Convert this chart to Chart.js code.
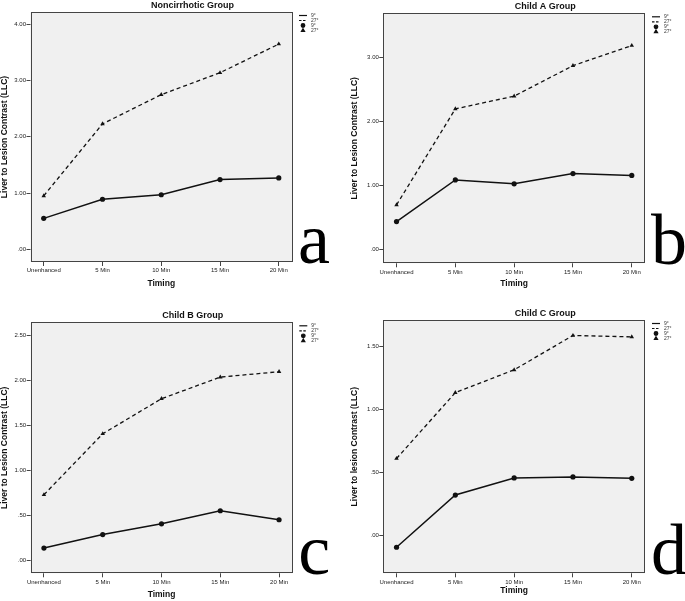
<!DOCTYPE html>
<html>
<head>
<meta charset="utf-8">
<title>Liver to Lesion Contrast by timing</title>
<script src="https://cdn.jsdelivr.net/npm/chart.js@4.4.0/dist/chart.umd.min.js"></script>
<style>
  body { margin: 0; background: #fff; }
  #wrap { position: relative; width: 685px; height: 601px; }
  canvas { position: absolute; }
</style>
</head>
<body>
<div id="wrap">
  <canvas id="panelA" width="342" height="300" style="left:0;top:0"></canvas>
  <canvas id="panelB" width="335" height="300" style="left:350px;top:0"></canvas>
  <canvas id="panelC" width="342" height="296" style="left:0;top:305px"></canvas>
  <canvas id="panelD" width="335" height="296" style="left:350px;top:305px"></canvas>
</div>
<script>
const timing = ['Unenhanced', '5 Min', '10 Min', '15 Min', '20 Min'];
const seriesNames = ['9°', '27°'];

// values
const noncirrhotic9 = [0.55, 0.89, 0.97, 1.24, 1.27];
const noncirrhotic27 = [0.95, 2.23, 2.75, 3.14, 3.65];
const childA9 = [0.44, 1.09, 1.03, 1.19, 1.16];
const childA27 = [0.70, 2.20, 2.40, 2.875, 3.19];
const childB9 = [0.14, 0.29, 0.41, 0.555, 0.455];
const childB27 = [0.733, 1.41, 1.80, 2.04, 2.10];
const childC9 = [-0.095, 0.32, 0.456, 0.464, 0.453];
const childC27 = [0.61, 1.134, 1.315, 1.588, 1.577];

const ticksNoncirrhotic = [0, 1, 2, 3, 4];
const ticksChildA = [0, 1, 2, 3];
const ticksChildB = [0, 0.5, 1, 1.5, 2, 2.5];
const ticksChildC = [0, 0.5, 1, 1.5];

const panels = [
  { id: 'panelA', title: 'Noncirrhotic Group', letter: 'a', yTitle: 'Liver to Lesion Contrast (LLC)',
    s9: noncirrhotic9, s27: noncirrhotic27, yTicks: ticksNoncirrhotic, yMin: -0.226, yMax: 4.22,
    box: { left: 30.5, right: 292, top: 12, bottom: 262 }, xGap: 22 },
  { id: 'panelB', title: 'Child A Group', letter: 'b', yTitle: 'Liver to Lesion Contrast (LLC)',
    s9: childA9, s27: childA27, yTicks: ticksChildA, yMin: -0.2125, yMax: 3.694,
    box: { left: 33.3, right: 295, top: 13.3, bottom: 263.3 }, xGap: 20.7 },
  { id: 'panelC', title: 'Child B Group', letter: 'c', yTitle: 'Liver to Lesion Contrast (LLC)',
    s9: childB9, s27: childB27, yTicks: ticksChildB, yMin: -0.14, yMax: 2.649,
    box: { left: 30.7, right: 292.3, top: 17.3, bottom: 268.3 }, xGap: 21.7 },
  { id: 'panelD', title: 'Child C Group', letter: 'd', yTitle: 'Liver to lesion Contrast (LLC)',
    s9: childC9, s27: childC27, yTicks: ticksChildC, yMin: -0.302, yMax: 1.711,
    box: { left: 33.3, right: 295, top: 15, bottom: 268.3 }, xGap: 17.8 }
];

const SANS = '"Liberation Sans", Arial, sans-serif';

// SPSS style: .50, 1.00
function spssNum(v) {
  return v.toFixed(2).replace(/^0\./, '.').replace(/^-0\./, '-.');
}

const panelDecor = {
  id: 'panelDecor',
  beforeDatasetsDraw(chart) {
    const { ctx, chartArea: a } = chart;
    ctx.save();
    ctx.fillStyle = '#f0f0f0';
    ctx.fillRect(a.left, a.top, a.width, a.height);
    ctx.strokeStyle = '#444';
    ctx.lineWidth = 1;
    ctx.strokeRect(Math.round(a.left) + 0.5, Math.round(a.top) + 0.5,
      Math.round(a.width) - 1, Math.round(a.height) - 1);
    ctx.restore();
  },
  afterDraw(chart, args, opts) {
    const { ctx, chartArea: a } = chart;
    ctx.save();
    // title
    ctx.fillStyle = '#111';
    ctx.font = 'bold 9px ' + SANS;
    ctx.textAlign = 'center';
    ctx.textBaseline = 'middle';
    ctx.fillText(opts.title, a.left + 162, a.top - 6.5);

    // legend: lines then markers
    const x0 = a.right + 7, tx = a.right + 19;
    ctx.font = '5px ' + SANS;
    ctx.textAlign = 'left';
    ctx.fillStyle = '#333';
    const sets = chart.data.datasets;
    sets.forEach((ds, i) => {
      const y = a.top + 3.5 + 5 * i;
      ctx.strokeStyle = ds.borderColor;
      ctx.lineWidth = 1.2;
      ctx.setLineDash(ds.borderDash ? [2.5, 1.5] : []);
      ctx.beginPath();
      ctx.moveTo(x0, y);
      ctx.lineTo(x0 + 8, y);
      ctx.stroke();
      ctx.fillText(ds.label, tx, y);
    });
    ctx.setLineDash([]);
    sets.forEach((ds, i) => {
      const y = a.top + 3.5 + 5 * (i + 2);
      ctx.fillStyle = ds.backgroundColor;
      ctx.strokeStyle = ds.borderColor;
      Chart.helpers.drawPoint(ctx, { pointStyle: ds.pointStyle, radius: 1.8, borderWidth: 0.5 }, x0 + 4, y);
      ctx.fillStyle = '#333';
      ctx.fillText(ds.label, tx, y);
    });

    // panel letter
    ctx.fillStyle = '#000';
    ctx.font = '72px "Liberation Serif", "Times New Roman", serif';
    ctx.textBaseline = 'alphabetic';
    ctx.fillText(opts.letter, a.right + 6, a.bottom + 1);
    ctx.restore();
  }
};

function buildChart(p) {
  const canvas = document.getElementById(p.id);
  const W = canvas.width, H = canvas.height;
  const xHeight = p.xGap + 5.1;
  const toPoints = arr => arr.map((v, i) => ({ x: i, y: v }));

  return new Chart(canvas, {
    type: 'line',
    data: {
      datasets: [
        {
          label: seriesNames[0], data: toPoints(p.s9),
          borderColor: '#111', backgroundColor: '#111', borderWidth: 1.5,
          pointStyle: 'circle', pointRadius: 2.6, pointBorderWidth: 0, tension: 0
        },
        {
          label: seriesNames[1], data: toPoints(p.s27),
          borderColor: '#111', backgroundColor: '#111', borderWidth: 1.3, borderDash: [4, 3],
          pointStyle: 'triangle', pointRadius: 2.6, pointBorderWidth: 0, tension: 0
        }
      ]
    },
    options: {
      responsive: false,
      animation: false,
      layout: {
        padding: { left: 0, top: p.box.top, right: W - p.box.right, bottom: H - p.box.bottom - xHeight }
      },
      scales: {
        x: {
          type: 'linear', min: -0.225, max: 4.225,
          afterBuildTicks: s => { s.ticks = timing.map((t, i) => ({ value: i })); },
          afterFit: s => { s.height = xHeight; },
          ticks: {
            callback: v => timing[v], autoSkip: false, maxRotation: 0, padding: 1,
            color: '#222', font: { family: SANS, size: 6 }
          },
          grid: { drawOnChartArea: false, tickLength: 4, color: '#444' },
          border: { display: false },
          title: {
            display: true, text: 'Timing', color: '#111', padding: 0,
            font: { family: SANS, size: 8.5, weight: 'bold', lineHeight: 1.2 }
          }
        },
        y: {
          min: p.yMin, max: p.yMax,
          afterBuildTicks: s => { s.ticks = p.yTicks.map(v => ({ value: v })); },
          afterFit: s => { s.width = p.box.left; },
          ticks: {
            callback: v => spssNum(v), padding: 0.5,
            color: '#222', font: { family: SANS, size: 6 }
          },
          grid: { drawOnChartArea: false, tickLength: 4, color: '#444' },
          border: { display: false },
          title: {
            display: true, text: p.yTitle, color: '#111', padding: 0,
            font: { family: SANS, size: 8.5, weight: 'bold', lineHeight: 1.2 }
          }
        }
      },
      plugins: {
        legend: { display: false },
        tooltip: { enabled: false },
        title: { display: false },
        panelDecor: { title: p.title, letter: p.letter }
      }
    },
    plugins: [panelDecor]
  });
}

panels.forEach(buildChart);
</script>
</body>
</html>
